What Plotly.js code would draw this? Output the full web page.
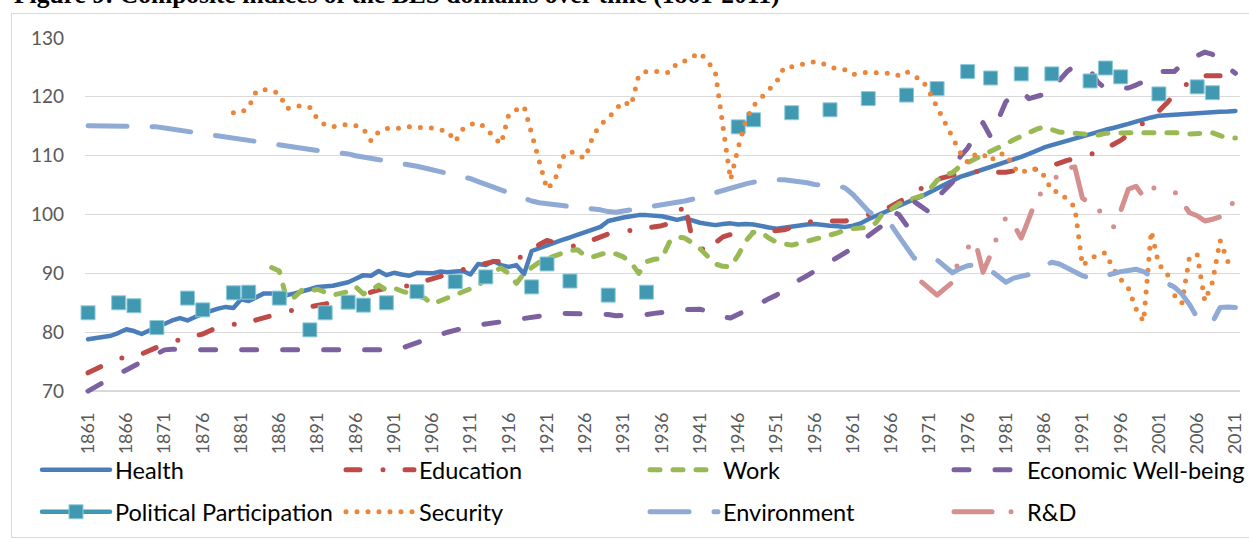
<!DOCTYPE html>
<html><head><meta charset="utf-8">
<script src="https://cdn.plot.ly/plotly-3.0.1.min.js"></script>
<style>
html,body{margin:0;padding:0;background:#fff;overflow:hidden;width:1249px;height:539px;}
#chart{position:absolute;left:0;top:0;width:1249px;height:539px;}
#frame{position:absolute;left:11px;top:13px;width:1300px;height:525px;border:1px solid #d9d9d9;box-sizing:border-box;pointer-events:none;}
.js-line{stroke-linecap:round !important;stroke-linejoin:round !important;}
</style></head><body>
<div id="chart"></div><div id="frame"></div>
<script>
const startYear = 1861, endYear = 2011;
const years = [];
for (let y = startYear; y <= endYear; y++) years.push(y);
const tickYears = years.filter(y => (y - startYear) % 5 === 0);

const health = [
 78.8,79.0,79.2,79.4,79.9,80.5,80.2,79.7,80.3,80.9,
 81.5,82.0,82.4,82.0,82.6,83.2,83.6,84.0,84.3,84.1,
 85.6,85.3,86.0,86.6,86.6,86.5,86.3,86.6,86.9,87.3,
 87.7,87.8,87.9,88.2,88.5,89.1,89.7,89.6,90.4,89.7,
 90.1,89.8,89.6,90.1,90.1,90.0,90.3,90.2,90.3,90.4,
 89.8,91.6,91.4,92.1,91.4,91.1,91.4,89.9,93.8,94.3,
 94.9,95.3,95.7,96.1,96.6,97.0,97.4,97.9,98.9,99.3,
 99.5,99.7,99.9,99.9,99.8,99.7,99.4,99.1,99.4,99.0,
 98.6,98.4,98.2,98.4,98.5,98.3,98.4,98.3,98.0,97.8,
 97.6,97.8,98.0,98.2,98.3,98.4,98.2,98.1,98.0,97.9,
 98.1,98.5,99.2,99.8,100.4,101.0,101.5,102.0,102.6,103.1,
 103.8,104.5,105.2,105.8,106.4,106.8,107.2,107.6,108.0,108.4,
 108.8,109.3,109.8,110.3,110.9,111.4,111.8,112.2,112.6,113.0,
 113.4,113.8,114.1,114.4,114.7,115.0,115.4,115.8,116.2,116.5,
 116.8,116.9,117.0,117.1,117.2,117.3,117.35,117.4,117.45,117.5,
 117.6];

const education = [
 73.1,73.8,74.4,75.0,75.5,75.9,76.1,76.3,76.9,77.5,
 78.0,78.4,78.8,79.1,79.4,79.7,80.3,80.9,81.2,81.3,
 81.4,81.6,82.1,82.5,82.9,83.3,83.5,83.8,84.0,84.2,
 84.5,84.8,85.1,85.4,85.7,86.0,86.4,86.8,87.2,87.5,
 87.7,87.8,87.9,88.3,88.7,89.0,89.4,89.9,90.4,90.7,
 91.1,91.4,91.7,92.0,92.0,92.0,92.3,93.2,94.0,94.9,
 95.6,95.3,94.8,94.5,94.8,95.1,95.7,96.3,96.7,96.9,
 97.1,97.2,97.4,97.6,97.8,98.1,98.5,99.5,102.0,95.7,
 94.5,93.5,95.2,96.2,96.6,96.7,96.8,96.9,97.0,97.0,
 97.1,97.4,97.8,98.3,98.7,98.9,98.9,98.8,98.7,98.9,
 99.2,99.6,99.9,100.3,100.8,101.4,102.1,102.8,103.6,104.5,
 105.4,106.0,106.4,106.7,107.0,107.2,107.4,107.4,107.2,107.1,
 107.2,107.4,107.5,107.5,107.6,107.8,108.3,108.8,109.2,109.5,
 109.8,110.2,110.6,111.2,111.9,112.6,113.6,114.6,115.5,116.6,
 117.6,118.9,120.4,121.5,122.5,123.2,123.6,123.6,123.6,123.9,
 124.2];

const workStart = 1885;
const work = [
 91.0,90.4,85.5,86.0,87.2,87.0,
 87.3,86.8,86.3,86.6,86.9,87.7,86.5,87.2,88.0,87.2,
 87.5,87.0,86.6,86.3,85.8,84.8,85.3,85.9,86.3,86.8,
 87.3,87.9,89.2,90.3,90.9,90.0,88.3,90.0,91.0,91.9,
 92.5,93.0,93.5,93.9,94.0,93.0,92.8,93.3,93.6,93.3,
 92.8,91.8,90.0,92.0,92.4,92.5,95.3,96.2,96.0,95.2,
 94.2,92.9,91.6,91.2,91.1,93.1,95.5,97.0,97.0,96.0,
 95.3,95.0,94.8,95.1,95.4,95.7,96.0,96.5,96.9,97.4,
 97.6,97.7,97.8,98.6,100.4,100.9,101.8,102.3,102.8,103.2,
 104.2,105.8,106.7,107.1,108.2,108.8,109.5,110.0,110.7,111.3,
 112.0,112.7,113.3,114.0,114.5,114.9,114.5,114.0,113.9,113.8,
 113.6,113.5,113.5,113.8,113.9,113.9,113.9,113.9,113.9,114.0,
 114.0,114.1,114.0,113.9,113.7,113.8,114.0,113.9,113.4,113.0,
 113.0];

const economic = [
 70.0,70.8,71.5,72.2,72.9,73.6,74.3,75.0,75.8,76.5,
 77.0,77.1,77.0,77.0,77.0,77.0,77.0,77.0,77.0,76.9,
 76.9,76.9,76.9,77.0,77.0,77.0,77.0,77.0,77.0,77.0,
 77.0,77.0,77.0,77.0,77.0,77.0,77.0,76.9,76.9,77.0,
 77.0,77.3,77.8,78.3,78.8,79.2,79.6,80.0,80.4,80.7,
 81.0,81.2,81.4,81.6,81.7,82.0,82.3,82.5,82.7,82.8,
 82.9,83.1,83.2,83.2,83.2,83.2,83.2,83.2,83.0,82.8,
 82.8,82.8,82.9,83.0,83.2,83.3,83.5,83.8,83.9,83.9,
 83.9,83.6,83.0,82.6,82.4,83.0,83.7,84.4,85.0,85.7,
 86.3,87.3,88.2,88.9,89.6,90.4,91.2,92.0,92.8,93.5,
 94.3,95.4,96.3,97.2,98.3,100.6,100.0,98.2,102.2,101.3,
 100.4,102.9,104.2,105.5,109.8,111.3,113.5,115.6,113.2,116.1,
 119.2,120.3,121.0,119.7,120.0,120.5,120.8,122.8,124.3,125.3,
 125.0,124.5,122.5,121.4,121.4,121.5,121.5,122.0,122.6,123.6,
 124.3,124.3,124.3,125.5,126.5,127.0,127.6,127.2,126.0,125.0,
 124.0];

const ppYears = [1861,1865,1867,1870,1874,1876,1880,1882,1886,1890,1892,1895,1897,1900,1904,1909,1913,1919,1921,1924,1929,1934,1946,1948,1953,1958,1963,1968,1972,1976,1979,1983,1987,1992,1994,1996,2001,2006,2008];
const ppValues = [83.3,85.0,84.5,80.8,85.8,83.8,86.7,86.8,85.8,80.4,83.3,85.1,84.6,85.0,86.9,88.6,89.4,87.7,91.6,88.7,86.3,86.8,114.9,116.1,117.3,117.8,119.7,120.3,121.4,124.3,123.2,123.9,123.9,122.7,124.9,123.4,120.5,121.7,120.7];

const securityStart = 1880;
const security = [
 117.3,117.3,118.2,121.0,121.2,121.1,120.5,118.0,118.4,118.5,118.2,
 116.2,115.2,114.9,115.2,115.3,115.1,114.6,112.5,114.1,114.6,
 114.6,114.7,114.9,114.9,114.9,114.7,114.4,114.2,112.4,114.5,
 115.3,115.6,114.8,113.2,112.0,117.0,117.8,118.4,113.7,108.8,
 104.3,105.7,109.7,110.8,110.0,109.6,113.3,115.3,116.3,117.9,
 119.2,118.5,123.7,124.3,124.4,124.3,124.1,125.7,126.1,126.8,
 127.5,126.0,124.3,115.0,105.9,111.4,116.0,118.5,120.0,121.2,
 122.5,125.0,125.1,125.3,125.7,126.0,125.7,125.0,124.7,124.6,
 123.8,124.0,124.2,124.1,124.1,124.0,123.6,124.3,123.4,123.0,
 120.8,118.3,115.8,113.2,110.6,108.9,110.2,110.3,109.1,110.3,
 110.3,108.0,107.0,107.8,107.7,106.6,104.0,103.8,102.5,101.3,
 91.3,92.4,93.2,93.5,90.9,89.0,87.5,84.0,81.8,97.2,
 91.4,90.3,86.3,84.9,92.8,93.2,85.3,88.5,95.6,92.0,
 91.8];

const environment = [
 115.1,115.1,115.1,115.1,115.1,115.0,115.0,115.0,115.0,114.9,
 114.7,114.5,114.4,114.2,114.0,113.8,113.7,113.5,113.3,113.1,
 112.9,112.7,112.5,112.3,112.1,111.9,111.7,111.5,111.2,111.0,
 110.8,110.7,110.6,110.5,110.3,110.0,109.8,109.6,109.4,109.2,
 109.0,108.8,108.5,108.2,107.9,107.6,107.3,107.1,106.8,106.5,
 106.1,105.6,105.1,104.6,104.1,103.6,103.2,102.8,102.3,102.0,
 101.8,101.6,101.4,101.3,101.2,101.1,101.0,100.8,100.5,100.4,
 100.6,100.8,101.0,101.1,101.3,101.5,101.7,102.0,102.3,102.6,
 103.0,103.4,103.8,104.2,104.6,104.9,105.2,105.5,105.7,105.9,
 105.9,105.9,105.8,105.7,105.4,105.1,105.0,104.9,104.9,104.5,
 103.4,102.0,100.6,99.6,98.9,98.2,96.3,94.4,92.6,92.0,
 91.8,92.3,91.2,90.1,90.8,91.3,91.5,91.3,90.5,89.4,
 88.5,89.2,89.5,89.8,90.5,91.3,91.9,91.6,90.9,90.1,
 89.6,89.2,89.2,89.6,90.0,90.3,90.5,90.7,90.3,89.5,
 89.0,88.3,87.7,86.5,84.7,82.5,81.7,81.7,84.2,84.3,
 84.2];

const rdStart = 1970;
const rd = [
 88.5,87.4,86.3,87.4,88.5,93.2,94.3,95.5,90.2,93.2,
 96.8,99.5,98.3,96.0,99.3,102.7,104.3,105.5,107.0,107.9,
 108.1,102.8,101.9,101.0,99.4,97.7,100.6,104.3,104.8,103.0,
 104.5,104.5,104.5,104.0,102.2,100.3,99.8,98.9,99.2,99.6,
 101.0,102.5];

function padFrom(first, arr) {
  return years.map(y => (y >= first && y - first < arr.length) ? arr[y - first] : null);
}
const political = years.map(y => { const i = ppYears.indexOf(y); return i >= 0 ? ppValues[i] : null; });

// layout geometry (page pixels)
const L = 85, R = 9, T = 38, B = 145;
const W = 1249 - L - R, Hh = 539 - T - B;
const px2x = p => (p - L) / W;
const px2y = p => (539 - B - p) / Hh;

function line(name, y, color, width, dash, legend) {
  return {type:'scatter', mode:'lines', name, x: years, y, connectgaps:false,
    line:{color, width, dash, shape:'linear'}, legend, hoverinfo:'skip'};
}

const traces = [
  line('Health', health, '#4A7EBB', 4.5, 'solid', 'legend'),
  line('Education', education, '#BE4B48', 5, '14px,23px,0px,22px', 'legend'),
  line('Work', padFrom(workStart, work), '#98B954', 5, '10px,13px', 'legend'),
  line('Economic Well-being', economic, '#7D60A0', 5, '15px,26px', 'legend'),
  {type:'scatter', mode:'lines+markers', name:'Political Participation', x: years, y: political,
   connectgaps:false, cliponaxis:false, legend:'legend2', hoverinfo:'skip',
   line:{color:'#4198B1', width:4.5},
   marker:{symbol:'square', size:14, color:'#4198B1', line:{color:'#8FCBDB', width:1}}},
  line('Security', padFrom(securityStart, security), '#EB8539', 5, '0px,11px', 'legend2'),
  line('Environment', environment, '#8FAAD4', 5, '39px,25px', 'legend2'),
  line('R&D', padFrom(rdStart, rd), '#D48F8E', 5, '38px,19px,0px,23px,0px,19px', 'legend2')
];

const legendBase = {orientation:'h', xanchor:'left', yanchor:'middle', x: px2x(37),
  font:{family:'Lato', size:23.5, color:'#000000'}, itemwidth:68, entrywidth:221,
  entrywidthmode:'pixels', bgcolor:'rgba(0,0,0,0)', borderwidth:0, traceorder:'normal',
  itemclick:false, itemdoubleclick:false};

const layout = {
  width:1249, height:539,
  margin:{l:L, r:R, t:T, b:B, autoexpand:false},
  paper_bgcolor:'#ffffff', plot_bgcolor:'#ffffff',
  showlegend:true, hovermode:false,
  xaxis:{range:[1860.6, 2011.6], tickmode:'array', tickvals: tickYears, ticktext: tickYears.map(String),
    tickangle:-90, tickfont:{family:'Lato', size:18, color:'#595959'}, showgrid:false,
    zeroline:false, showline:false, ticks:'', ticklabelstandoff:14, fixedrange:true},
  yaxis:{range:[69.5, 130], tickmode:'array', tickvals:[70,80,90,100,110,120,130],
    tickfont:{family:'Lato', size:19, color:'#595959'}, showgrid:true, gridcolor:'#d9d9d9',
    gridwidth:1.3, zeroline:false, showline:false, ticks:'', ticklabelstandoff:20, fixedrange:true},
  legend: Object.assign({}, legendBase, {y: px2y(470)}),
  legend2: Object.assign({}, legendBase, {y: px2y(512)}),
  annotations:[{xref:'paper', yref:'paper', x: px2x(12), xanchor:'left', y: px2y(11), yanchor:'bottom',
    text:'<b>Figure 9: Composite indices of the BES domains over time (1861-2011)</b>',
    showarrow:false, font:{family:'Liberation Serif', size:25.5, color:'#000000'}}]
};

Plotly.newPlot('chart', traces, layout, {staticPlot:true, displayModeBar:false});
</script></body></html>
